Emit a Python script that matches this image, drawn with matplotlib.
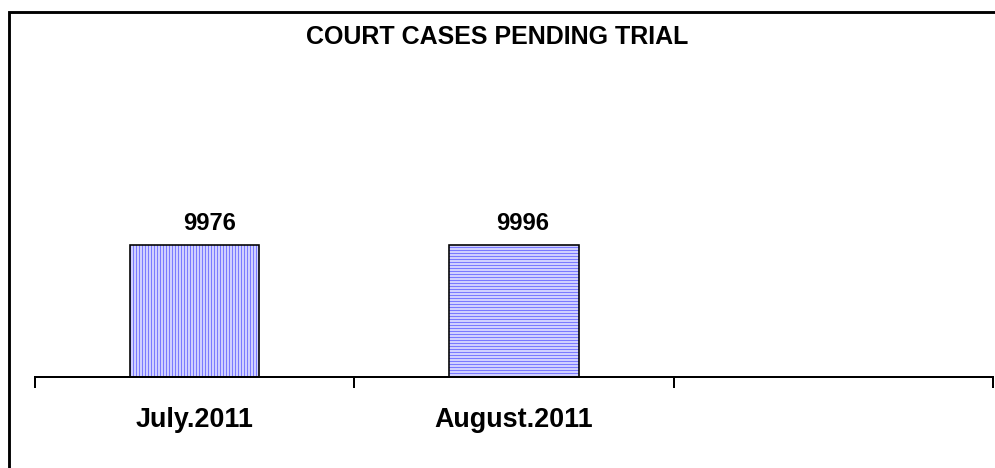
import matplotlib
matplotlib.use("Agg")
import matplotlib.pyplot as plt
from matplotlib.patches import Rectangle

title = "COURT CASES PENDING TRIAL"
categories = ["July.2011", "August.2011", ""]
values = [9976, 9996]
hatches = ["|||||", "-----"]
label_shift = [15, 9]

plt.rcParams['font.family'] = ['Liberation Sans', 'DejaVu Sans']
plt.rcParams['hatch.linewidth'] = 1.1

DPI = 90
W, H = 995, 468
fig = plt.figure(figsize=(W / DPI, H / DPI), dpi=DPI)

# outer frame
fig.patches.append(Rectangle((9 / W, -0.1), 1.2, 1 - 12 / H + 0.1,
                             transform=fig.transFigure, fill=False,
                             edgecolor='black', linewidth=2.3))

left, right = 35 / W, 993 / W
bottom, top = 1 - 377 / H, 1 - 40 / H
ax = fig.add_axes([left, bottom, right - left, top - bottom])
ymax = 9976 * (377 - 40) / (377 - 245)
ax.set_xlim(-0.5, 2.5)
ax.set_ylim(0, ymax)

for i, v in enumerate(values):
    ax.bar(i, v, width=0.405, color='#e4e4ff', edgecolor='#7a7aff', hatch=hatches[i], linewidth=0)
    ax.bar(i, v, width=0.405, fill=False, edgecolor='black', linewidth=1.3)
    ax.annotate(str(v), (i, v), xytext=(label_shift[i], 10), textcoords='offset pixels',
                ha='center', va='bottom', fontsize=19, fontweight='bold')

for s in ['top', 'left', 'right']:
    ax.spines[s].set_visible(False)
ax.spines['bottom'].set_linewidth(1.6)
ax.set_yticks([])
ax.set_xticks([-0.5, 0.5, 1.5, 2.5])
ax.set_xticklabels([])
ax.tick_params(axis='x', which='major', direction='out', length=9, width=1.6)
ax.set_xticks([0, 1, 2], minor=True)
ax.set_xticklabels(categories, minor=True, fontsize=21.5, fontweight='bold')
ax.tick_params(axis='x', which='minor', length=0, pad=24)

fig.text(0.5, 1 - 43.5 / H, title, ha='center', va='baseline', fontsize=20, fontweight='bold')

fig.savefig("out.png", dpi=DPI)
